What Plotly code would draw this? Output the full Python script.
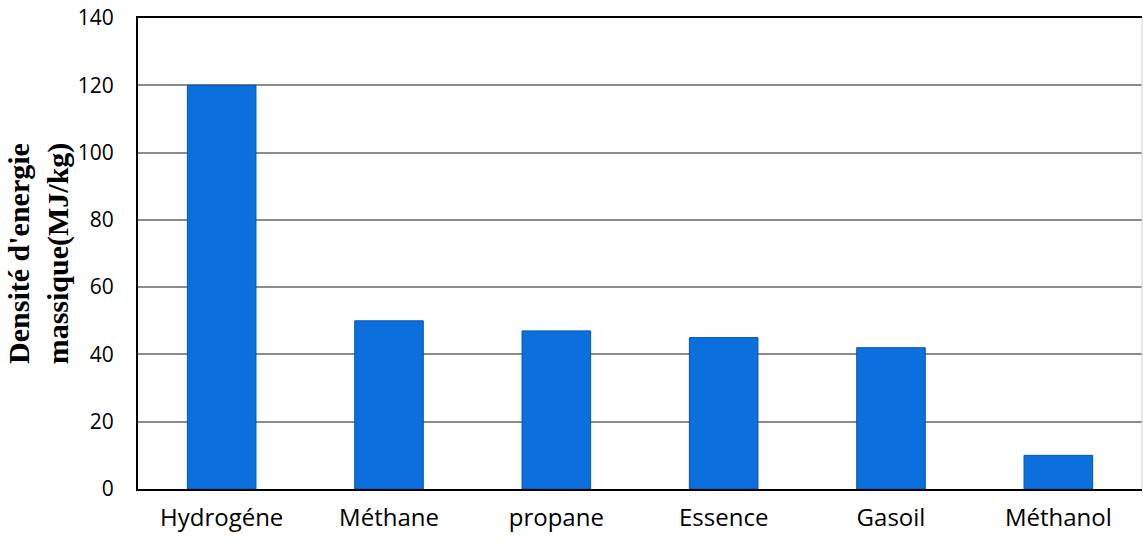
import plotly.graph_objects as go

categories = ["Hydrogéne", "Méthane", "propane", "Essence", "Gasoil", "Méthanol"]
values = [120, 50, 47, 45, 42, 10]
y_ticks = [0, 20, 40, 60, 80, 100, 120, 140]

fig = go.Figure()
fig.add_trace(go.Bar(
    x=categories, y=values,
    marker=dict(color="#0c6fde", line=dict(color="#0a55ad", width=1)),
    width=0.41,
))

fig.update_layout(
    width=1143, height=544,
    margin=dict(l=138, r=1, t=18, b=55),
    paper_bgcolor="white", plot_bgcolor="white",
    showlegend=False,
    font=dict(family="Open Sans, Noto Sans, sans-serif", size=21, color="black"),
    xaxis=dict(
        showline=True, linecolor="black", linewidth=2, mirror=True,
        ticks="", ticklabelstandoff=6,
        tickfont=dict(size=24),
    ),
    yaxis=dict(
        range=[0, 140], tickvals=y_ticks,
        showline=True, linecolor="black", linewidth=2,
        showgrid=True, gridcolor="#8c8c8c", gridwidth=1.5,
        ticks="", ticklabelstandoff=18,
        tickfont=dict(size=21),
        title=dict(
            text="<b>Densité d'energie<br>massique(MJ/kg)</b>",
            font=dict(family="Liberation Serif, Times New Roman, serif", size=30),
            standoff=0,
        ),
        zeroline=False,
    ),
    shapes=[dict(type="line", xref="paper", yref="paper", x0=1, x1=1, y0=0, y1=1,
                 line=dict(color="#d0d0d0", width=1))],
)

fig.write_html("out.html")
